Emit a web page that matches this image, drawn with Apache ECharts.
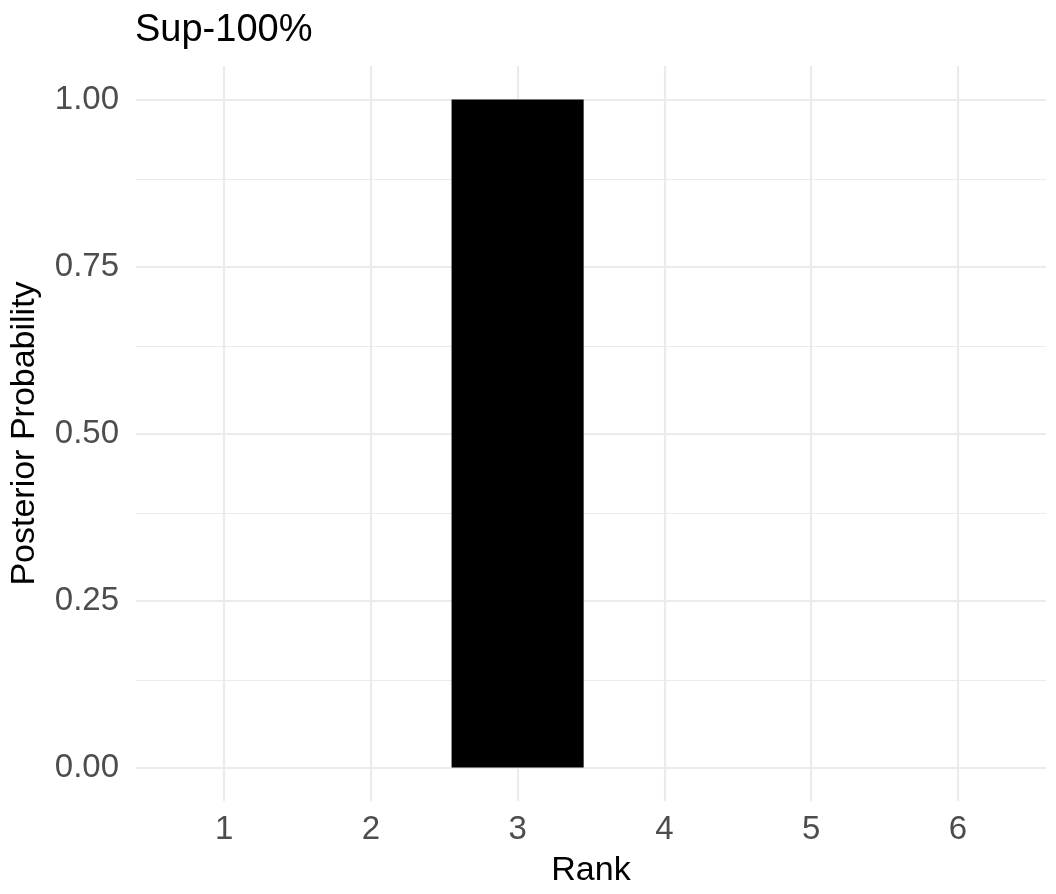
<!DOCTYPE html>
<html>
<head>
<meta charset="utf-8">
<title>Sup-100%</title>
<script src="https://cdn.jsdelivr.net/npm/echarts@6/dist/echarts.min.js"></script>
<style>
  html, body { margin: 0; padding: 0; background: #fff; }
  #chart { width: 1056px; height: 894px; }
</style>
</head>
<body>
<div id="chart"></div>
<script>
// data
const ranks = [1, 2, 3, 4, 5, 6]
const probs = [0, 0, 1, 0, 0, 0]
const yTicks = [0, 0.25, 0.5, 0.75, 1]
const yMinor = [0.125, 0.375, 0.625, 0.875]

const gridColor = '#EBEBEB'
const font = 'Liberation Sans, Arial, Helvetica, sans-serif'

const chart = echarts.init(document.getElementById('chart'))

chart.setOption({
  animation: false,
  title: {
    text: 'Sup-100%',
    left: 135,
    top: 12,
    padding: 0,
    textStyle: { fontFamily: font, fontSize: 38, fontWeight: 'normal', color: '#000', lineHeight: 38 }
  },
  grid: { left: 135, right: 10, top: 66, bottom: 93, containLabel: false },
  xAxis: {
    type: 'value',
    min: 0.4,
    max: 6.6,
    name: 'Rank',
    nameLocation: 'middle',
    nameGap: 53,
    nameTextStyle: { fontFamily: font, fontSize: 34, color: '#000', lineHeight: 34 },
    axisLine: { show: false },
    axisTick: { show: false },
    splitLine: { show: false },
    axisLabel: {
      customValues: ranks,
      margin: 12,
      fontFamily: font,
      fontSize: 33,
      lineHeight: 33,
      color: '#4D4D4D'
    }
  },
  yAxis: {
    type: 'value',
    min: -0.05,
    max: 1.05,
    name: 'Posterior Probability',
    nameLocation: 'middle',
    nameGap: 94,
    nameTextStyle: { fontFamily: font, fontSize: 34, color: '#000', lineHeight: 34 },
    axisLine: { show: false },
    axisTick: { show: false },
    splitLine: { show: false },
    axisLabel: {
      customValues: yTicks,
      margin: 17,
      fontFamily: font,
      fontSize: 33,
      lineHeight: 33,
      color: '#4D4D4D',
      formatter: v => v.toFixed(2)
    }
  },
  series: [
    {
      // grid lines drawn through the axes' scales
      type: 'line',
      data: [],
      z: 1,
      silent: true,
      markLine: {
        silent: true,
        symbol: 'none',
        label: { show: false },
        animation: false,
        data: [
          ...yMinor.map(v => ({ yAxis: v, lineStyle: { color: gridColor, width: 1.2, type: 'solid' } })),
          ...yTicks.map(v => ({ yAxis: v, lineStyle: { color: gridColor, width: 2.2, type: 'solid' } })),
          ...ranks.map(v => ({ xAxis: v, lineStyle: { color: gridColor, width: 2.2, type: 'solid' } }))
        ]
      }
    },
    {
      type: 'bar',
      z: 5,
      barWidth: '90%',
      itemStyle: { color: '#000' },
      data: ranks.map((r, i) => [r, probs[i]])
    }
  ]
})
</script>
</body>
</html>
